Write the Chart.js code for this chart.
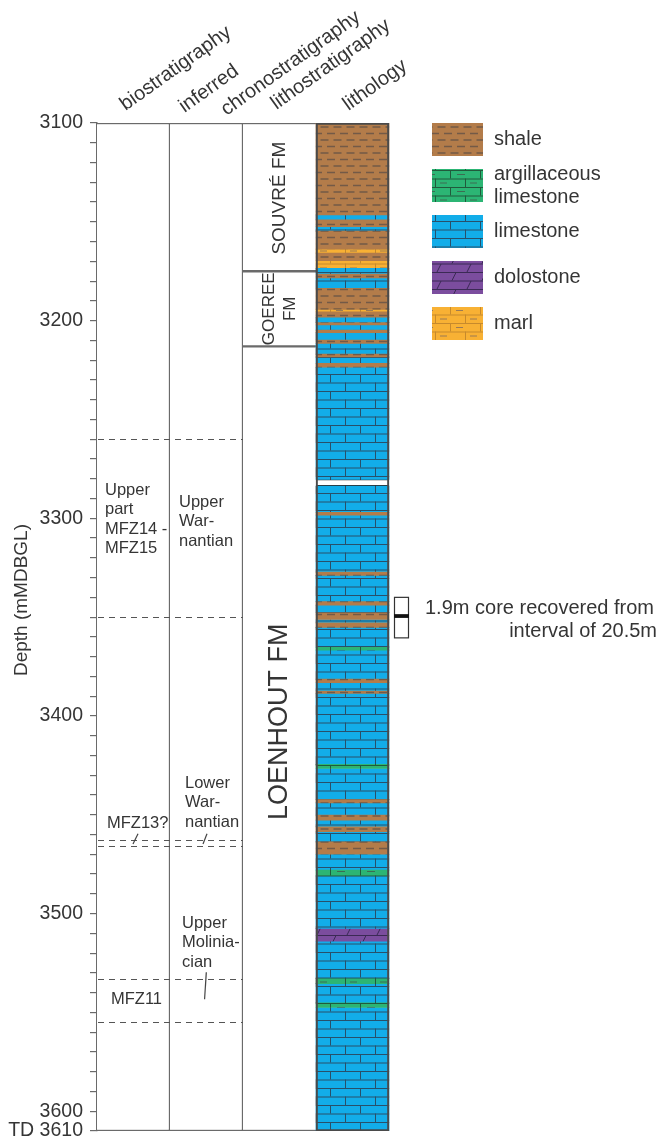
<!DOCTYPE html>
<html>
<head>
<meta charset="utf-8">
<script src="https://cdn.jsdelivr.net/npm/chart.js@4.4.1/dist/chart.umd.min.js"></script>
<style>
  html, body { margin: 0; padding: 0; background: #fff; }
  canvas { display: block; }
</style>
</head>
<body>
<canvas id="log" width="660" height="1136"></canvas>
<script>
// ---------- data ----------
const TOP_DEPTH = 3100;
const TOTAL_DEPTH = 3610;
const depthLabels = [3100, 3200, 3300, 3400, 3500, 3600];
const totalDepthLabel = 'TD 3610';
const depthTitle = 'Depth (mMDBGL)';

const columnKeys = ['bio', 'chrono', 'litho', 'lithology', 'core', 'keyA', 'keyB'];
const columnTitles = ['biostratigraphy', 'inferred', 'chronostratigraphy', 'lithostratigraphy', 'lithology'];

// lithology log: boundaries (m) and the rock type of each interval between them
const lithBoundaries = [
  3100, 3146.5, 3149, 3152.5, 3154.7, 3163.8, 3165.8, 3169.7, 3173.5, 3176.4,
  3178.4, 3183.6, 3194.3, 3195.5, 3198.3, 3201, 3202.2, 3204.8, 3206.1, 3209.8,
  3211.5, 3216.9, 3218.3, 3221.6, 3223.6, 3280.3, 3283.7, 3297, 3298.4, 3327.2,
  3328.9, 3342.2, 3343.9, 3347.8, 3351.2, 3352.9, 3355.2, 3365.3, 3366.7, 3381.4,
  3383.2, 3387.4, 3388.6, 3424.5, 3426.6, 3442.3, 3444, 3450.2, 3452.7, 3456.1,
  3458.6, 3463.7, 3470, 3478, 3481, 3507.5, 3514.3, 3532.9, 3535.4, 3545.2,
  3547.5, 3610
];
const lithTypes = [
  'shale', 'limestone', 'shale', 'limestone', 'shale', 'marl', 'shale', 'marl', 'limestone',
  'shale', 'limestone', 'shale', 'marl', 'shale', 'limestone', 'shale', 'limestone', 'shale', 'limestone',
  'shale', 'limestone', 'shale', 'limestone', 'shale', 'limestone', 'gap', 'limestone', 'shale', 'limestone',
  'shale', 'limestone', 'shale', 'limestone', 'shale', 'limestone', 'shale', 'limestone', 'argillaceous', 'limestone',
  'shale', 'limestone', 'shale', 'limestone', 'argillaceous', 'limestone', 'shale', 'limestone', 'shale', 'limestone',
  'shale', 'limestone', 'shale', 'limestone', 'argillaceous', 'limestone', 'dolostone', 'limestone', 'argillaceous', 'limestone',
  'argillaceous', 'limestone'
];

// lithostratigraphy
const formationNames = [['SOUVRÉ FM'], ['GOEREE', 'FM'], ['LOENHOUT FM']];
const formationTops  = [3100, 3175, 3213];
const formationBases = [3175, 3213, 3610];
const formationLabelDepths = [3138, 3194, 3403];

// biostratigraphic / chronostratigraphic zone boundaries (dashed)
const zoneBoundaries = [3260, 3350, 3463, 3466, 3533, 3555];
const bioLabelLines = [['Upper', 'part', 'MFZ14 -', 'MFZ15'], ['MFZ13?'], ['MFZ11']];
const bioLabelDepths = [3285.7, 3454.2, 3543.3];
const chronoLabelLines = [['Upper', 'War-', 'nantian'], ['Lower', 'War-', 'nantian'], ['Upper', 'Molinia-', 'cian']];
const chronoLabelDepths = [3291.8, 3434, 3504.9];
// leader ticks: [column, from depth, to depth]
const leaderCols = [0, 1, 1];
const leaderFrom = [3459.6, 3459.6, 3529.7];
const leaderTo   = [3464.8, 3464.8, 3543.3];

// core
const coreInterval  = [3340, 3360.5];   // 20.5 m
const coreRecovered = [3348.5, 3350.4]; // 1.9 m
const coreText = ['1.9m core recovered from', 'interval of 20.5m'];

// key
const legendKinds = ['shale', 'argillaceous', 'limestone', 'dolostone', 'marl'];
const legendNames = [['shale'], ['argillaceous', 'limestone'], ['limestone'], ['dolostone'], ['marl']];

// ---------- styling ----------
const FONT = "'Liberation Sans', Arial, Helvetica, sans-serif";
const INK = '#353535';
const FRAME = '#6a6a6a';

function brickRows(g, w, h, line, lw, slant) {
  g.strokeStyle = line;
  g.lineWidth = lw;
  const r = h / 2;
  g.beginPath();
  g.moveTo(0, 0.5); g.lineTo(w, 0.5);
  g.moveTo(0, r + 0.5); g.lineTo(w, r + 0.5);
  if (slant) {
    g.moveTo(2, r); g.lineTo(6, 0.5);
    g.moveTo(w / 2 + 2, h); g.lineTo(w / 2 + 6, r + 0.5);
  } else {
    g.moveTo(0.5, 0); g.lineTo(0.5, r);
    g.moveTo(w / 2 + 0.5, r); g.lineTo(w / 2 + 0.5, h);
  }
  g.stroke();
}

function makePattern(kind) {
  const c = document.createElement('canvas');
  let w = 30, h = 17;
  if (kind === 'shale') { w = 26; h = 13; }
  c.width = w; c.height = h;
  const g = c.getContext('2d');
  const fills = {
    shale: '#b37c4a', limestone: '#12ade9', argillaceous: '#2cb574',
    dolostone: '#7b4d9e', marl: '#f8b134', gap: '#ffffff'
  };
  g.fillStyle = fills[kind];
  g.fillRect(0, 0, w, h);
  if (kind === 'shale') {
    g.strokeStyle = '#735a47';
    g.lineWidth = 1.3;
    g.beginPath();
    g.moveTo(2, 3.5); g.lineTo(10, 3.5);
    g.moveTo(15, 3.5); g.lineTo(23, 3.5);
    g.moveTo(8.5, 10); g.lineTo(16.5, 10);
    g.moveTo(21.5, 10); g.lineTo(26, 10);
    g.moveTo(0, 10); g.lineTo(3.5, 10);
    g.stroke();
  } else if (kind === 'limestone') {
    brickRows(g, w, h, '#28506a', 1, false);
  } else if (kind === 'argillaceous') {
    brickRows(g, w, h, '#215a3c', 1, false);
    g.strokeStyle = '#3d6d52';
    g.beginPath();
    g.moveTo(7, 4.5); g.lineTo(15, 4.5);
    g.moveTo(20, 13); g.lineTo(27, 13);
    g.stroke();
  } else if (kind === 'dolostone') {
    brickRows(g, w, h, '#3b2a55', 1, true);
  } else if (kind === 'marl') {
    brickRows(g, w, h, '#c78a2c', 1, false);
    g.strokeStyle = '#9a7a55';
    g.beginPath();
    g.moveTo(6, 4.5); g.lineTo(13, 4.5);
    g.moveTo(20, 13); g.lineTo(27, 13);
    g.stroke();
  }
  return document.getElementById('log').getContext('2d').createPattern(c, 'repeat');
}

const lithKinds = ['shale', 'argillaceous', 'limestone', 'dolostone', 'marl', 'gap'];
const patterns = {};
lithKinds.forEach(k => { patterns[k] = makePattern(k); });

// ---------- datasets ----------
const frameDataset = {
  label: 'frames',
  data: [
    { x: 'bio', y: [TOP_DEPTH, TOTAL_DEPTH] },
    { x: 'chrono', y: [TOP_DEPTH, TOTAL_DEPTH] }
  ],
  backgroundColor: '#ffffff',
  borderColor: FRAME,
  borderWidth: { top: 1.5, bottom: 1.5, left: 0, right: 1.5 },
  borderSkipped: false,
  order: 5
};

const formationDataset = {
  label: 'formations',
  data: formationTops.map((t, i) => ({ x: 'litho', y: [t, formationBases[i]] })),
  backgroundColor: '#ffffff',
  borderColor: FRAME,
  borderWidth: { top: 1.5, bottom: 1.5, left: 0, right: 0 },
  borderSkipped: false,
  order: 4
};

const lithDatasets = lithKinds.map(kind => ({
  label: kind,
  data: lithTypes
    .map((t, i) => (t === kind ? { x: 'lithology', y: [lithBoundaries[i], lithBoundaries[i + 1]] } : null))
    .filter(Boolean),
  backgroundColor: patterns[kind],
  borderColor: '#2b2b2b',
  borderWidth: kind === 'gap' ? { top: 1.3, bottom: 1.3, left: 0, right: 0 } : 0,
  borderSkipped: false,
  order: 2
}));

const lithOutline = {
  label: 'lithology column',
  data: [{ x: 'lithology', y: [TOP_DEPTH, TOTAL_DEPTH] }],
  backgroundColor: 'rgba(0,0,0,0)',
  borderColor: '#4a4a4a',
  borderWidth: 1.5,
  borderSkipped: false,
  order: 0
};

// ---------- annotations drawn on top of the log ----------
const HEADER_ANGLE = -35.5 * Math.PI / 180;
const HEADER_POS = [[0, -8, 111], [1, -22, 113], [1, 20, 116], [2, -3, 110], [3, -4, 111]];

const logDecor = {
  id: 'logDecor',
  afterDatasetsDraw(chart) {
    const { ctx } = chart;
    const xs = chart.scales.x, ys = chart.scales.y;
    const colW = xs.getPixelForValue(1) - xs.getPixelForValue(0);
    const left = i => xs.getPixelForValue(i) - colW / 2;
    const mid = i => xs.getPixelForValue(i);
    const py = d => ys.getPixelForValue(d);

    ctx.save();
    // zone boundaries
    ctx.strokeStyle = '#555';
    ctx.lineWidth = 1.2;
    ctx.setLineDash([6, 5]);
    zoneBoundaries.forEach(d => {
      const yy = Math.round(py(d)) + 0.5;
      ctx.beginPath();
      ctx.moveTo(left(0) + 1, yy);
      ctx.lineTo(left(2), yy);
      ctx.stroke();
    });
    ctx.setLineDash([]);

    // zone labels
    ctx.fillStyle = INK;
    ctx.font = `16.5px ${FONT}`;
    ctx.textBaseline = 'middle';
    ctx.textAlign = 'left';
    const LINE = 19.5;
    const bioDx = [8, 10, 14];
    bioLabelLines.forEach((lines, i) => {
      lines.forEach((s, j) => ctx.fillText(s, left(0) + bioDx[i], py(bioLabelDepths[i]) + j * LINE));
    });
    const chronoDx = [9, 15, 12];
    chronoLabelLines.forEach((lines, i) => {
      lines.forEach((s, j) => ctx.fillText(s, left(1) + chronoDx[i], py(chronoLabelDepths[i]) + j * LINE));
    });

    // leader ticks
    const leaderDx = [[41, 36], [37, 33], [36.3, 34.6]];
    ctx.strokeStyle = '#444';
    ctx.lineWidth = 1.2;
    leaderCols.forEach((c, i) => {
      ctx.beginPath();
      ctx.moveTo(left(c) + leaderDx[i][0], py(leaderFrom[i]));
      ctx.lineTo(left(c) + leaderDx[i][1], py(leaderTo[i]));
      ctx.stroke();
    });

    // formation names
    const fmSize = [19, 17, 27];
    formationNames.forEach((lines, i) => {
      ctx.save();
      ctx.translate(mid(2), py(formationLabelDepths[i]));
      ctx.rotate(-Math.PI / 2);
      ctx.font = `${fmSize[i]}px ${FONT}`;
      ctx.textAlign = 'center';
      ctx.fillStyle = INK;
      const n = lines.length;
      lines.forEach((s, j) => ctx.fillText(s, 0, (j - (n - 1) / 2) * 21));
      ctx.restore();
    });

    // depth axis title
    ctx.save();
    ctx.translate(22, 600);
    ctx.rotate(-Math.PI / 2);
    ctx.font = `19px ${FONT}`;
    ctx.textAlign = 'center';
    ctx.fillStyle = INK;
    ctx.fillText(depthTitle, 0, 0);
    ctx.restore();

    // column titles
    ctx.font = `20px ${FONT}`;
    ctx.textBaseline = 'alphabetic';
    ctx.textAlign = 'left';
    columnTitles.forEach((s, i) => {
      const [c, dx, yy] = HEADER_POS[i];
      ctx.save();
      ctx.translate(mid(c) + dx, yy);
      ctx.rotate(HEADER_ANGLE);
      ctx.fillText(s, 0, 0);
      ctx.restore();
    });

    // core interval
    const cx0 = left(4) + 5, cw = 14;
    ctx.strokeStyle = '#333';
    ctx.lineWidth = 1.2;
    ctx.strokeRect(cx0 + 0.5, py(coreInterval[0]), cw, py(coreInterval[1]) - py(coreInterval[0]));
    ctx.fillStyle = '#111';
    ctx.fillRect(cx0, py(coreRecovered[0]), cw + 1, py(coreRecovered[1]) - py(coreRecovered[0]));
    ctx.fillStyle = INK;
    ctx.font = `20px ${FONT}`;
    ctx.textBaseline = 'middle';
    ctx.textAlign = 'left';
    ctx.fillText(coreText[0], left(4) + 36, py(3345.8));
    ctx.textAlign = 'right';
    ctx.fillText(coreText[1], 657, py(3357.5));

    // key
    const kx = left(4) + 43, kw = 51, kh = 33;
    legendKinds.forEach((k, i) => {
      const top = 123 + i * 46;
      ctx.fillStyle = patterns[k];
      ctx.fillRect(kx, top, kw, kh);
      ctx.fillStyle = INK;
      ctx.textAlign = 'left';
      const lines = legendNames[i];
      const n = lines.length;
      lines.forEach((s, j) => ctx.fillText(s, kx + 62, top + kh / 2 + (j - (n - 1) / 2) * 23));
    });
    ctx.restore();
  }
};

new Chart(document.getElementById('log'), {
  type: 'bar',
  data: {
    labels: columnKeys,
    datasets: [lithOutline, ...lithDatasets, formationDataset, frameDataset]
  },
  options: {
    responsive: false,
    animation: false,
    events: [],
    layout: { padding: { top: 123, bottom: 5, left: 0, right: 52 } },
    datasets: { bar: { grouped: false, barPercentage: 1, categoryPercentage: 1 } },
    plugins: { legend: { display: false }, tooltip: { enabled: false } },
    scales: {
      x: { display: false },
      y: {
        type: 'linear',
        reverse: true,
        min: TOP_DEPTH,
        max: TOTAL_DEPTH,
        afterFit(s) { s.width = 97; s.paddingTop = 0; s.paddingBottom = 0; },
        ticks: {
          stepSize: 10,
          autoSkip: false,
          padding: 7,
          color: INK,
          font: { family: FONT, size: 19.5 },
          callback: v => (depthLabels.includes(v) ? String(v) : (v === TOTAL_DEPTH ? totalDepthLabel : ''))
        },
        grid: { drawOnChartArea: false, tickLength: 7, color: FRAME, lineWidth: 1.2 },
        border: { color: FRAME, width: 1.5 },
        title: { display: false }
      }
    }
  },
  plugins: [logDecor]
});
</script>
</body>
</html>
